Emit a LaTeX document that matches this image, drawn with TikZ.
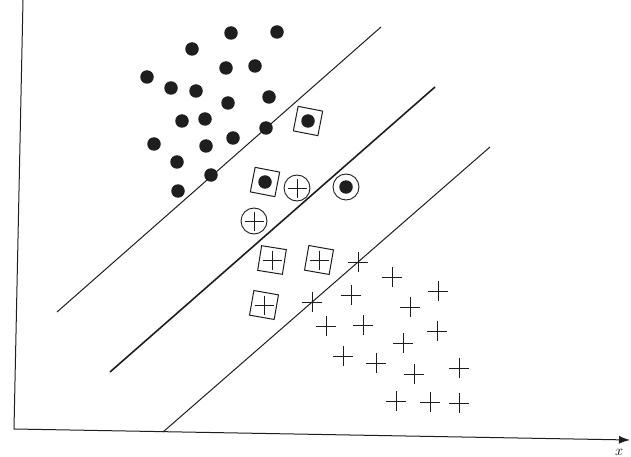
\documentclass[tikz,border=0pt]{standalone}
\usetikzlibrary{arrows.meta}
\definecolor{ink}{HTML}{1E1E1E}
\begin{document}
\begin{tikzpicture}[x=1pt,y=-1pt,
  dot/.style={circle,fill=ink,inner sep=0pt,minimum size=13.5pt},
  sqbox/.style={draw=ink,line width=1pt,inner sep=0pt,minimum size=25pt},
  ringbox/.style={circle,draw=ink,line width=0.9pt,inner sep=0pt,minimum size=26pt},
  plusmark/.pic={\draw[ink,line width=0.9pt] (-10,0) -- (10,0) (0,-10) -- (0,10);},
  smallplus/.pic={\draw[ink,line width=0.9pt] (-9.5,0) -- (9.5,0) (0,-9.5) -- (0,9.5);},
  axis/.style={ink,line width=1pt},
  margin/.style={ink,line width=1pt},
  hyper/.style={ink,line width=1.6pt}]
\useasboundingbox (0,0) rectangle (631,457);
% axes
\coordinate (ytop) at (23,0);
\coordinate (orig) at (14,429);
\coordinate (xend) at (630,440);
\draw[axis,-{Latex[length=11pt,width=8pt]}] (ytop) -- (orig) -- (xend);
\node[font=\fontsize{14}{14}\selectfont,anchor=base,inner sep=0pt] (xlab) at (619,455) {$x$};
% separating lines
\coordinate (a1) at (57,312);  \coordinate (a2) at (381,27);
\coordinate (b1) at (110,372); \coordinate (b2) at (435,87);
\coordinate (c1) at (163,432); \coordinate (c2) at (490,147);
\draw[margin] (a1) -- (a2);
\draw[hyper] (b1) -- (b2);
\draw[margin] (c1) -- (c2);
% class dots
\foreach \p [count=\i] in {(231,33),(277,32),(192,49),(226,68),(255,66),(147,77),(171,88),(196,91),(228,103),(269,97),(182,121),(205,119),(266,128),(154,144),(206,146),(233,138),(177,162),(211,175),(178,191)}
  \node[dot] (d\i) at \p {};
% boxed dots
\node[sqbox,rotate=-11] (bd1) at (308,121) {};
\node[dot] (bdi1) at (bd1.center) {};
\node[sqbox,rotate=-11] (bd2) at (265,182) {};
\node[dot] (bdi2) at (bd2.center) {};
% circled dot
\node[ringbox] (cd1) at (346,187) {};
\node[dot] (cdi1) at (cd1.center) {};
% circled pluses
\node[ringbox] (cp1) at (297,188) {};
\pic at (cp1.center) {smallplus};
\node[ringbox] (cp2) at (254,221) {};
\pic at (cp2.center) {smallplus};
% boxed pluses
\node[sqbox,rotate=-9] (bp1) at (272,260) {};
\pic at (bp1.center) {smallplus};
\node[sqbox,rotate=-10] (bp2) at (319,260) {};
\pic at (bp2.center) {smallplus};
\node[sqbox,rotate=-10] (bp3) at (264,305) {};
\pic at (bp3.center) {smallplus};
% plus class
\foreach \p in {(358,262),(392,277),(438,291),(351,295),(410,307),(312,302),(326,326),(363,325),(437,331),(403,343),(343,356),(376,363),(414,374),(459,368),(396,401),(430,402),(459,403)}
  \pic at \p {plusmark};
\end{tikzpicture}
\end{document}
